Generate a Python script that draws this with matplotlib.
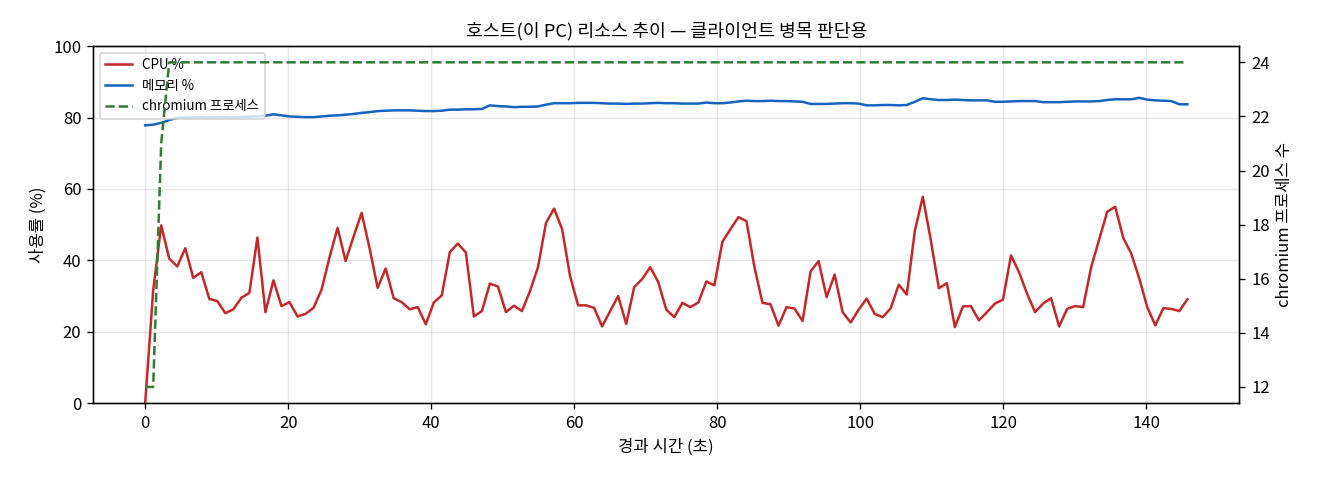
import numpy as np
import matplotlib
matplotlib.use('Agg')
import matplotlib.pyplot as plt

plt.rcParams['font.family'] = ['Noto Sans CJK KR', 'DejaVu Sans']
plt.rcParams['axes.unicode_minus'] = False

# sampling interval of the host monitor (seconds)
interval_s = 1.121

cpu = [0, 31.6, 49.8, 40.5, 38.3, 43.4, 35.1, 36.7, 29.2, 28.6,
       25.2, 26.3, 29.5, 30.9, 46.4, 25.5, 34.4, 27.2, 28.3, 24.3,
       25.0, 26.7, 31.8, 40.9, 49.1, 39.8, 46.7, 53.3, 43.3, 32.3,
       37.7, 29.4, 28.3, 26.3, 26.9, 22.1, 28.2, 30.2, 42.3, 44.7,
       42.2, 24.3, 25.8, 33.5, 32.7, 25.5, 27.3, 25.8, 31.4, 38.1,
       50.5, 54.5, 48.8, 35.6, 27.4, 27.4, 26.7, 21.5, 25.8, 30.0,
       22.2, 32.5, 34.8, 38.1, 33.9, 26.2, 24.1, 28.1, 26.9, 28.2,
       34.1, 33.0, 45.2, 48.7, 52.1, 51.0, 38.1, 28.1, 27.7, 21.7,
       26.9, 26.5, 23.0, 36.9, 39.8, 29.7, 36.0, 25.5, 22.6, 26.2,
       29.3, 25.0, 24.1, 26.6, 33.2, 30.4, 48.2, 57.8, 45.6, 32.2,
       33.6, 21.3, 27.1, 27.2, 23.2, 25.5, 27.9, 29.0, 41.4, 36.7,
       30.7, 25.5, 27.9, 29.4, 21.5, 26.4, 27.2, 26.9, 38.1, 45.8,
       53.6, 55.0, 46.3, 41.9, 34.9, 26.9, 21.8, 26.6, 26.4, 25.8,
       29.1]

mem = [77.8, 78.0, 78.5, 79.3, 79.9, 80.0, 80.0, 80.1, 80.0, 80.1,
       80.1, 80.0, 80.1, 80.2, 80.3, 80.5, 80.9, 80.6, 80.3, 80.2,
       80.1, 80.1, 80.3, 80.5, 80.6, 80.8, 81.0, 81.3, 81.5, 81.8,
       81.9, 82.0, 82.0, 82.0, 81.9, 81.8, 81.8, 81.9, 82.2, 82.2,
       82.3, 82.3, 82.4, 83.4, 83.2, 83.1, 82.9, 83.0, 83.0, 83.1,
       83.6, 84.0, 84.0, 84.0, 84.1, 84.1, 84.1, 84.0, 83.9, 83.9,
       83.8, 83.9, 83.9, 84.0, 84.1, 84.0, 84.0, 83.9, 83.9, 83.9,
       84.2, 84.0, 84.0, 84.2, 84.5, 84.7, 84.6, 84.6, 84.7, 84.6,
       84.6, 84.5, 84.4, 83.8, 83.8, 83.8, 83.9, 84.0, 84.0, 83.9,
       83.4, 83.4, 83.5, 83.5, 83.4, 83.5, 84.4, 85.4, 85.1, 84.9,
       84.9, 85.0, 84.9, 84.8, 84.8, 84.8, 84.4, 84.4, 84.5, 84.6,
       84.6, 84.6, 84.3, 84.3, 84.3, 84.4, 84.5, 84.5, 84.5, 84.6,
       84.9, 85.1, 85.1, 85.1, 85.5, 85.0, 84.8, 84.7, 84.6, 83.7,
       83.7]

procs = [12, 12, 21] + [24] * 128

t = np.arange(len(cpu)) * interval_s

fig, ax = plt.subplots(figsize=(11, 4), dpi=120)
ax2 = ax.twinx()

l1, = ax.plot(t, cpu, color='#c62828', lw=1.5, label='CPU %')
l2, = ax.plot(t, mem, color='#1565c0', lw=1.5, label='메모리 %')
l3, = ax2.plot(t, procs, color='#2e7d32', lw=1.5, ls='--', label='chromium 프로세스')

ax.set_ylim(0, 100)
ax.set_xlabel('경과 시간 (초)')
ax.set_ylabel('사용률 (%)')
ax2.set_ylabel('chromium 프로세스 수')
ax.grid(True, alpha=0.3)
ax.set_title('호스트(이 PC) 리소스 추이 — 클라이언트 병목 판단용', fontsize=11)
ax.legend(handles=[l1, l2, l3], loc='upper left', fontsize=8)

fig.subplots_adjust(left=0.0705, right=0.939, top=0.904, bottom=0.16)
fig.savefig('out.png', dpi=120)
